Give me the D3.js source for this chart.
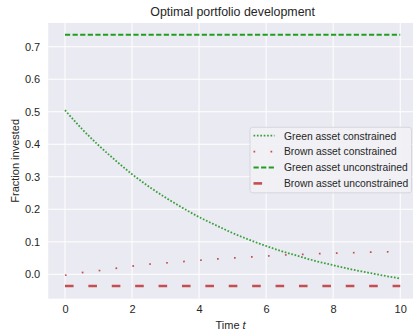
<!DOCTYPE html>
<html>
<head>
<meta charset="utf-8">
<script src="https://cdn.jsdelivr.net/npm/d3@7"></script>
<style>
  body { margin: 0; background: #fff; }
  text { font-family: "Liberation Sans", Arial, sans-serif; fill: #262626; }
</style>
</head>
<body>
<div id="chart"></div>
<script>
// time grid the curves were read on
let times = [0, 0.5, 1, 1.5, 2, 2.5, 3, 3.5, 4, 4.5, 5, 5.5, 6, 6.5, 7, 7.5, 8, 8.5, 9, 9.5, 10];
let greenConstrained = [0.505, 0.448, 0.397, 0.351, 0.308, 0.270, 0.236, 0.205, 0.176, 0.151, 0.127, 0.106, 0.087, 0.070, 0.055, 0.040, 0.028, 0.016, 0.006, -0.004, -0.013];
let brownConstrained = [-0.003, 0.005, 0.011, 0.018, 0.025, 0.031, 0.035, 0.039, 0.043, 0.047, 0.050, 0.053, 0.056, 0.059, 0.061, 0.063, 0.065, 0.066, 0.068, 0.069, 0.070];
let greenUnconstrained = 0.737;
let brownUnconstrained = -0.036;
let xTicks = [0, 2, 4, 6, 8, 10];
let yTicks = [0.0, 0.1, 0.2, 0.3, 0.4, 0.5, 0.6, 0.7];
let seriesNames = ["Green asset constrained", "Brown asset constrained", "Green asset unconstrained", "Brown asset unconstrained"];

let svgWidth = 413;
let svgHeight = 330;
let plot = { left: 48.2, right: 417, top: 23, bottom: 298.7 };

let svg = d3.select("#chart")
    .append("svg")
    .attr("width", svgWidth)
    .attr("height", svgHeight);

let x = d3.scaleLinear().domain([-0.5, 10.5]).range([plot.left, plot.right]);
let y = d3.scaleLinear().domain([-0.0751, 0.7731]).range([plot.bottom, plot.top]);

// background
svg.append("rect")
    .attr("x", plot.left).attr("y", plot.top)
    .attr("width", plot.right - plot.left)
    .attr("height", plot.bottom - plot.top)
    .attr("fill", "#eaeaf2");

// grid
let grid = svg.append("g");
grid.selectAll(".vx").data(xTicks).enter().append("line")
    .attr("x1", d => x(d)).attr("x2", d => x(d))
    .attr("y1", plot.top).attr("y2", plot.bottom)
    .attr("stroke", "#fff").attr("stroke-width", 1);
grid.selectAll(".hy").data(yTicks).enter().append("line")
    .attr("y1", d => y(d)).attr("y2", d => y(d))
    .attr("x1", plot.left).attr("x2", plot.right)
    .attr("stroke", "#fff").attr("stroke-width", 1);

// axes (labels only, seaborn style: no tick marks, no spines)
let xAxis = svg.append("g")
    .attr("transform", `translate(0,${plot.bottom})`)
    .call(d3.axisBottom(x).tickValues(xTicks).tickSize(0).tickPadding(7).tickFormat(d3.format("d")));
let yAxis = svg.append("g")
    .attr("transform", `translate(${plot.left},0)`)
    .call(d3.axisLeft(y).tickValues(yTicks).tickSize(0).tickPadding(8).tickFormat(d3.format(".1f")));
[xAxis, yAxis].forEach(a => {
    a.select(".domain").remove();
    a.selectAll("text").attr("font-size", "11px").attr("fill", "#262626")
        .attr("font-family", "'Liberation Sans', Arial, sans-serif");
});

// clip for lines
svg.append("clipPath").attr("id", "clip")
    .append("rect")
    .attr("x", plot.left).attr("y", plot.top)
    .attr("width", plot.right - plot.left)
    .attr("height", plot.bottom - plot.top);

let line = d3.line().x(d => x(d[0])).y(d => y(d[1])).curve(d3.curveMonotoneX);
let lines = svg.append("g").attr("clip-path", "url(#clip)");

let styles = [
    { color: "#3aa03a", width: 1.8, dash: "1.7,1.7" },
    { color: "#c44e52", width: 1.7, dash: "1.7,15.3" },
    { color: "#1f9e1f", width: 1.8, dash: "5.2,2.4" },
    { color: "#c44e52", width: 2.6, dash: "8.6,14.8" }
];

let seriesData = [
    times.map((t, i) => [t, greenConstrained[i]]),
    times.map((t, i) => [t, brownConstrained[i]]),
    [[times[0], greenUnconstrained], [times[times.length - 1], greenUnconstrained]],
    [[times[0], brownUnconstrained], [times[times.length - 1], brownUnconstrained]]
];

seriesData.forEach((data, i) => {
    lines.append("path")
        .datum(data)
        .attr("d", line)
        .attr("fill", "none")
        .attr("stroke", styles[i].color)
        .attr("stroke-width", styles[i].width)
        .attr("stroke-dasharray", styles[i].dash);
});

// title
svg.append("text")
    .attr("x", (plot.left + plot.right) / 2)
    .attr("y", 16)
    .attr("text-anchor", "middle")
    .attr("font-size", "12.4px")
    .text("Optimal portfolio development");

// axis labels
let xLabel = svg.append("text")
    .attr("x", (plot.left + plot.right) / 2 - 2)
    .attr("y", 329)
    .attr("text-anchor", "middle")
    .attr("font-size", "11px");
xLabel.append("tspan").text("Time ");
xLabel.append("tspan").attr("font-style", "italic").text("t");

svg.append("text")
    .attr("transform", `translate(19,${(plot.top + plot.bottom) / 2}) rotate(-90)`)
    .attr("text-anchor", "middle")
    .attr("font-size", "11px")
    .text("Fraction invested");

// legend
let legend = svg.append("g");
legend.append("rect")
    .attr("x", 250).attr("y", 127.3)
    .attr("width", 161.5).attr("height", 65.5)
    .attr("rx", 2.5)
    .attr("fill", "#f1f1f5").attr("fill-opacity", 0.9)
    .attr("stroke", "#d0d0d8").attr("stroke-width", 0.8);

seriesNames.forEach((name, i) => {
    let yy = 135.7 + i * 15.9;
    legend.append("line")
        .attr("x1", 253.5).attr("x2", 274.5)
        .attr("y1", yy).attr("y2", yy)
        .attr("stroke", styles[i].color)
        .attr("stroke-width", styles[i].width)
        .attr("stroke-dasharray", styles[i].dash);
    legend.append("text")
        .attr("x", 284)
        .attr("y", yy + 3.8)
        .attr("font-size", "10.3px")
        .text(name);
});
</script>
</body>
</html>
